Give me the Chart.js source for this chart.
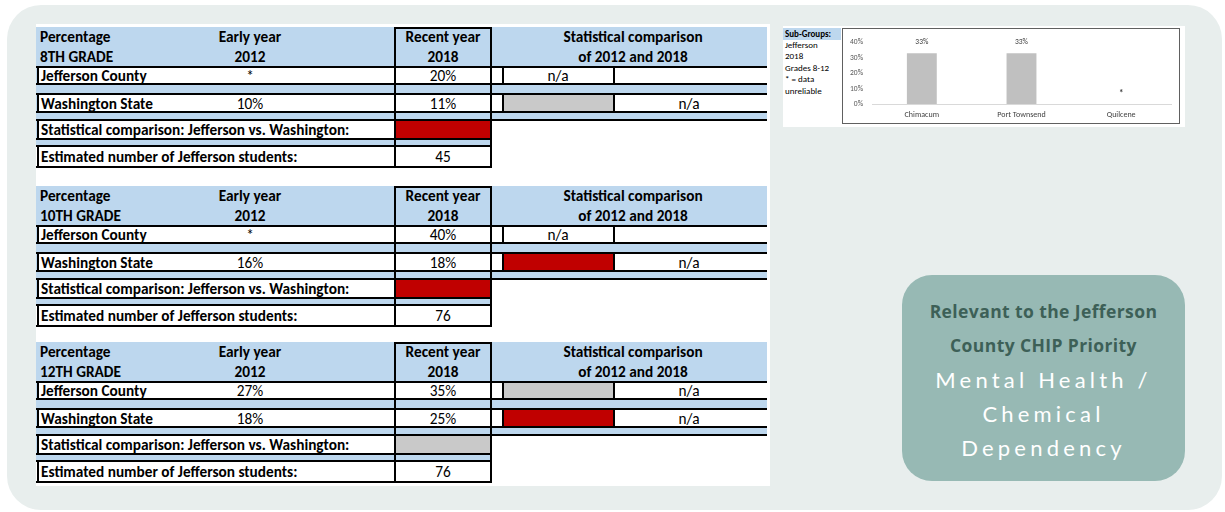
<!DOCTYPE html>
<html>
<head>
<meta charset="utf-8">
<title>Jefferson County – Mental Health / Chemical Dependency</title>
<script src="https://cdn.jsdelivr.net/npm/chart.js@4.4.0/dist/chart.umd.min.js"></script>
<style>
  body { margin: 0; background: #fff; }
  #page { position: relative; width: 1225px; height: 512px; overflow: hidden; font-family: Carlito, Lato, sans-serif; }
  .frame { position: absolute; left: 7px; top: 5px; width: 1215px; height: 505px; border-radius: 34px; background: #e8eeed; }
  .abs { position: absolute; box-sizing: border-box; }
  .t { position: absolute; white-space: nowrap; line-height: 1; font-size: 15.3px; color: #000; }
  #subPanel { position: absolute; left: 783px; top: 26px; width: 402px; height: 101px; background: #fff; }
  #subHead { position: absolute; left: 0; top: 2px; width: 58px; height: 12px; background: #bdd7ee; font-weight: 700; font-size: 9px; line-height: 12px; padding-left: 2px; box-sizing: border-box; }
  #subNote { position: absolute; left: 2px; top: 13px; font-size: 9px; line-height: 11.4px; color: #000; }
  #chartBox { position: absolute; left: 59px; top: 2px; width: 338px; height: 96px; border: 1px solid #606060; box-sizing: border-box; }
  #chartBox canvas { position: absolute; left: 0; top: 0; }
  .chip { position: absolute; left: 902px; top: 275px; width: 283px; height: 206px; border-radius: 30px; background: #97b9b4; text-align: center; }
  .chip .dark { position: absolute; left: 0; width: 100%; color: #3d6057; font-family: "Open Sans", sans-serif; font-weight: 700; font-size: 17.5px; letter-spacing: 0.4px; line-height: 1; }
  .chip .light { position: absolute; left: 0; width: 100%; color: #fff; font-family: Lato, sans-serif; font-size: 22px; letter-spacing: 4.2px; line-height: 1; }
</style>
</head>
<body>
<div id="page">
  <div class="frame"></div>
  <div class="abs" style="left:36px;top:24px;width:734px;height:462px;background:#fff"></div>
  <div id="tables"></div>

  <div id="subPanel">
    <div id="subHead">Sub-Groups:</div>
    <div id="subNote">Jefferson<br>2018<br>Grades 8-12<br>* = data<br>unreliable</div>
    <div id="chartBox"><canvas id="subChart" width="336" height="94"></canvas></div>
  </div>

  <div class="chip">
    <div class="dark" style="top:28px">Relevant to the Jefferson</div>
    <div class="dark" style="top:62px">County CHIP Priority</div>
    <div class="light" style="top:94px">Mental Health /</div>
    <div class="light" style="top:128px">Chemical</div>
    <div class="light" style="top:162px">Dependency</div>
  </div>
</div>

<script>
// table values by grade (8th, 10th, 12th)
const gradeLabels = ["8TH GRADE", "10TH GRADE", "12TH GRADE"];
const earlyYear = "2012";
const recentYear = "2018";
const rowNames = ["Jefferson County", "Washington State"];
const earlyValues = [["*", "10%"], ["*", "16%"], ["27%", "18%"]];
const recentValues = [["20%", "11%"], ["40%", "18%"], ["35%", "25%"]];
const trendMarks = [[null, "gray"], [null, "red"], ["gray", "red"]];
const countyVsState = ["red", "red", "gray"];
const studentCounts = ["45", "76", "76"];
const sectionTops = [27, 186, 342];

// sub-group bar chart
const subGroups = ["Chimacum", "Port Townsend", "Quilcene"];
const subGroupValues = [33, 33, null];
const yTicks = [0, 10, 20, 30, 40];

const BLUE = "#bdd7ee";
const MARK = { red: "#c00000", gray: "#c9c9c9" };

const root = document.getElementById("tables");

function rect(x, y, w, h, bg) {
    const d = document.createElement("div");
    d.className = "abs";
    Object.assign(d.style, { left: x + "px", top: y + "px", width: w + "px", height: h + "px", background: bg });
    root.appendChild(d);
    return d;
}
function hline(x0, x1, y) { rect(x0, y - 1, x1 - x0, 2, "#000"); }
function vline(x, y0, y1) { rect(x - 1, y0 - 1, 2, y1 - y0 + 2, "#000"); }

function label(str, x, y, bold, center) {
    const d = document.createElement("div");
    d.className = "t";
    d.textContent = str;
    d.style.left = x + "px";
    d.style.top = y + "px";
    d.style.fontWeight = bold ? "700" : "400";
    d.style.transform = center ? "translate(-50%, -50%)" : "translate(0, -50%)";
    root.appendChild(d);
}

function drawSection(i) {
    const T = sectionTops[i];

    rect(36, T, 731, 93, BLUE);
    rect(36, T + 93, 455, 26, BLUE);

    label("Percentage", 40, T + 10, true);
    label(gradeLabels[i], 40, T + 30, true);
    label("Early year", 250, T + 10, true, true);
    label(earlyYear, 250, T + 30, true, true);
    label("Recent year", 443, T + 10, true, true);
    label(recentYear, 443, T + 30, true, true);
    label("Statistical comparison", 633, T + 10, true, true);
    label("of " + earlyYear + " and " + recentYear, 633, T + 30, true, true);

    // county and state rows
    const rows = [[T + 40, T + 57], [T + 67, T + 85]];
    rows.forEach(([y0, y1], r) => {
        rect(38, y0, 729, y1 - y0, "#fff");
        const mark = trendMarks[i][r];
        if (mark) rect(503, y0, 111, y1 - y0, MARK[mark]);
        hline(36, 767, y0);
        hline(36, 767, y1);
        vline(38, y0, y1);
        vline(503, y0, y1);
        vline(614, y0, y1);
        const cy = (y0 + y1) / 2 + 0.5;
        label(rowNames[r], 41, cy, true);
        label(earlyValues[i][r], 250, cy, false, true);
        label(recentValues[i][r], 443, cy, false, true);
        label("n/a", mark ? 689 : 558, cy, false, true);
    });

    // Jefferson vs. Washington comparison row
    let y0 = T + 93, y1 = T + 112;
    rect(38, y0, 357, y1 - y0, "#fff");
    rect(395, y0, 96, y1 - y0, MARK[countyVsState[i]]);
    hline(36, 767, y0);
    hline(36, 491, y1);
    vline(38, y0, y1);
    label("Statistical comparison: Jefferson vs. Washington:", 41, (y0 + y1) / 2 + 0.5, true);

    // estimated student count row
    y0 = T + 119; y1 = T + 140;
    rect(38, y0, 453, y1 - y0, "#fff");
    hline(36, 491, y0);
    hline(36, 491, y1);
    vline(38, y0, y1);
    label("Estimated number of Jefferson students:", 41, (y0 + y1) / 2 + 0.5, true);
    label(studentCounts[i], 443, (y0 + y1) / 2 + 0.5, false, true);

    // outline of the recent-year column
    const col = rect(394, T, 98, 141, "transparent");
    col.style.border = "2px solid #000";
}

gradeLabels.forEach((_, i) => drawSection(i));

// value labels above the bars; unreliable values show "*"
const valueLabels = {
    id: "valueLabels",
    afterDatasetsDraw(chart) {
        const ctx = chart.ctx;
        const meta = chart.getDatasetMeta(0);
        const yScale = chart.scales.y;
        ctx.save();
        ctx.fillStyle = "#404040";
        ctx.textAlign = "center";
        ctx.textBaseline = "middle";
        meta.data.forEach((bar, i) => {
            const v = subGroupValues[i];
            if (v === null) {
                ctx.font = "bold 9px Carlito, Lato, sans-serif";
                ctx.fillText("*", bar.x, yScale.getPixelForValue(0) - 10);
            } else {
                ctx.font = "7.5px Carlito, Lato, sans-serif";
                ctx.fillText(v + "%", bar.x, bar.y - 11);
            }
        });
        ctx.restore();
    }
};

const ctx = document.getElementById("subChart").getContext("2d");
new Chart(ctx, {
    type: "bar",
    data: {
        labels: subGroups,
        datasets: [
            {
                data: subGroupValues,
                backgroundColor: "#c0c0c0",
                barPercentage: 0.6,
                categoryPercentage: 0.5,
            },
        ],
    },
    options: {
        responsive: false,
        animation: false,
        events: [],
        layout: { padding: { top: 8, right: 8, left: 0, bottom: 0 } },
        plugins: {
            legend: { display: false },
            tooltip: { enabled: false },
        },
        scales: {
            x: {
                grid: { display: false, drawTicks: false },
                border: { color: "#d9d9d9", width: 1 },
                ticks: { color: "#404040", padding: 6, font: { family: "Carlito, Lato, sans-serif", size: 8 } },
                afterFit: (s) => { s.height = 19; },
            },
            y: {
                min: yTicks[0],
                max: yTicks[yTicks.length - 1],
                afterBuildTicks: (s) => { s.ticks = yTicks.map((v) => ({ value: v })); },
                grid: { display: false, drawTicks: false },
                border: { display: false },
                ticks: { color: "#595959", padding: 9, font: { family: "Carlito, Lato, sans-serif", size: 7.5 }, callback: (v) => v + "%" },
                afterFit: (s) => { s.width = 29; },
            },
        },
    },
    plugins: [valueLabels],
});
</script>
</body>
</html>
